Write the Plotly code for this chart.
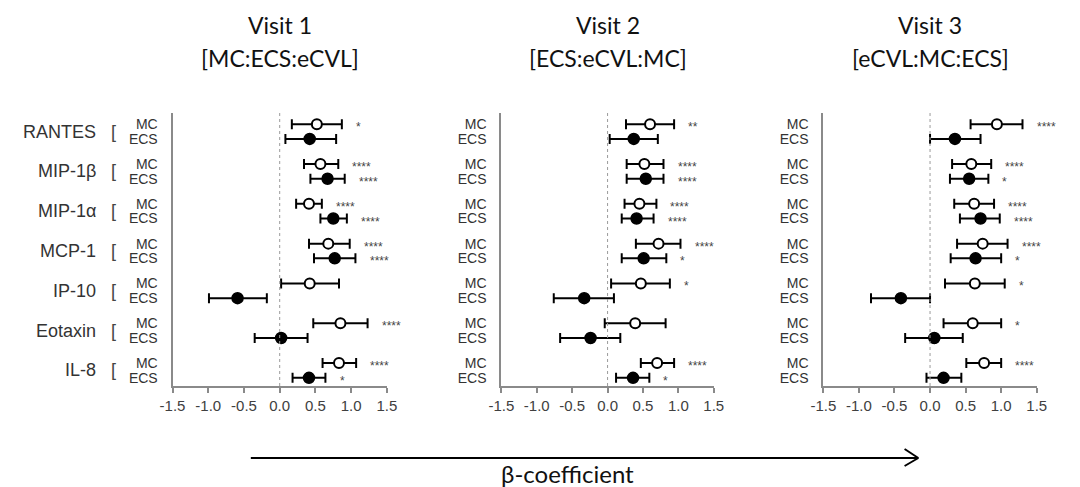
import plotly.graph_objects as go

W, H = 1080, 487

cytokines = ["RANTES", "MIP-1β", "MIP-1α", "MCP-1", "IP-10", "Eotaxin", "IL-8"]
visit_names = ["Visit 1", "Visit 2", "Visit 3"]
visit_orders = ["[MC:ECS:eCVL]", "[ECS:eCVL:MC]", "[eCVL:MC:ECS]"]
tick_vals = [-1.5, -1.0, -0.5, 0.0, 0.5, 1.0, 1.5]
tick_text = ["-1.5", "-1.0", "-0.5", "0.0", "0.5", "1.0", "1.5"]

# Visit 1
v1_mc_est = [0.52, 0.57, 0.41, 0.68, 0.42, 0.85, 0.83]
v1_mc_lo = [0.17, 0.34, 0.23, 0.41, 0.02, 0.47, 0.60]
v1_mc_hi = [0.87, 0.82, 0.59, 0.98, 0.83, 1.23, 1.07]
v1_mc_sig = ["*", "****", "****", "****", "", "****", "****"]
v1_ecs_est = [0.42, 0.67, 0.75, 0.77, -0.59, 0.02, 0.41]
v1_ecs_lo = [0.08, 0.43, 0.57, 0.48, -0.99, -0.35, 0.18]
v1_ecs_hi = [0.79, 0.91, 0.94, 1.06, -0.18, 0.39, 0.64]
v1_ecs_sig = ["", "****", "****", "****", "", "", "*"]

# Visit 2
v2_mc_est = [0.60, 0.52, 0.45, 0.72, 0.47, 0.39, 0.70]
v2_mc_lo = [0.26, 0.27, 0.24, 0.40, 0.05, -0.04, 0.47]
v2_mc_hi = [0.94, 0.79, 0.69, 1.03, 0.88, 0.82, 0.94]
v2_mc_sig = ["**", "****", "****", "****", "*", "", "****"]
v2_ecs_est = [0.37, 0.54, 0.41, 0.51, -0.33, -0.24, 0.36]
v2_ecs_lo = [0.03, 0.27, 0.20, 0.20, -0.76, -0.67, 0.12]
v2_ecs_hi = [0.71, 0.79, 0.65, 0.83, 0.09, 0.18, 0.59]
v2_ecs_sig = ["", "****", "****", "*", "", "", "*"]

# Visit 3
v3_mc_est = [0.94, 0.58, 0.62, 0.74, 0.63, 0.60, 0.76]
v3_mc_lo = [0.57, 0.31, 0.34, 0.38, 0.21, 0.19, 0.51]
v3_mc_hi = [1.30, 0.86, 0.90, 1.09, 1.05, 1.00, 1.00]
v3_mc_sig = ["****", "****", "****", "****", "*", "*", "****"]
v3_ecs_est = [0.35, 0.55, 0.71, 0.64, -0.41, 0.06, 0.19]
v3_ecs_lo = [0.00, 0.28, 0.42, 0.29, -0.83, -0.35, -0.05]
v3_ecs_hi = [0.71, 0.82, 0.98, 1.00, 0.00, 0.46, 0.44]
v3_ecs_sig = ["", "*", "****", "*", "", "", ""]

visits = [
    (v1_mc_est, v1_mc_lo, v1_mc_hi, v1_mc_sig, v1_ecs_est, v1_ecs_lo, v1_ecs_hi, v1_ecs_sig),
    (v2_mc_est, v2_mc_lo, v2_mc_hi, v2_mc_sig, v2_ecs_est, v2_ecs_lo, v2_ecs_hi, v2_ecs_sig),
    (v3_mc_est, v3_mc_lo, v3_mc_hi, v3_mc_sig, v3_ecs_est, v3_ecs_lo, v3_ecs_hi, v3_ecs_sig),
]

def px(x):
    return x / W

def py(y):
    return 1 - y / H

OFF = 0.185
mc_pos = [i - OFF for i in range(len(cytokines))]
ecs_pos = [i + OFF for i in range(len(cytokines))]

x_domains = [(px(163), px(382)), (px(499), px(716)), (px(828), px(1046))]
y_domain = (py(386), py(113))

fig = go.Figure()
axis_gray = "#8a8a8a"
arial = "Liberation Sans, Arial, sans-serif"
calibri_like = "Lato, Open Sans, sans-serif"
tick_font = dict(family=arial, size=15, color="#404040")

for k, (me, ml, mh, ms, ee, el, eh, es) in enumerate(visits):
    n = k + 1
    xa = "x" if n == 1 else f"x{n}"
    ya = "y" if n == 1 else f"y{n}"
    # ECS (filled)
    fig.add_trace(go.Scatter(
        x=ee, y=ecs_pos, mode="markers", xaxis=xa, yaxis=ya, showlegend=False,
        marker=dict(symbol="circle", size=11, color="black", line=dict(color="black", width=1.5)),
        error_x=dict(type="data", symmetric=False,
                     array=[h - e for h, e in zip(eh, ee)],
                     arrayminus=[e - l for e, l in zip(ee, el)],
                     color="black", thickness=2, width=5),
    ))
    # MC (open)
    fig.add_trace(go.Scatter(
        x=me, y=mc_pos, mode="markers", xaxis=xa, yaxis=ya, showlegend=False,
        marker=dict(symbol="circle", size=10, color="white", line=dict(color="black", width=2)),
        error_x=dict(type="data", symmetric=False,
                     array=[h - e for h, e in zip(mh, me)],
                     arrayminus=[e - l for e, l in zip(me, ml)],
                     color="black", thickness=2, width=5),
    ))
    # significance stars
    for vals, hi, sig in ((mc_pos, mh, ms), (ecs_pos, eh, es)):
        for yv, h, s in zip(vals, hi, sig):
            if s:
                fig.add_annotation(x=h + 0.17, y=yv, xref=xa, yref=ya, text=s,
                                   showarrow=False, xanchor="left", yanchor="middle",
                                   yshift=-3,
                                   font=dict(family=arial, size=12, color="#444444"))
    # zero dotted line
    fig.add_shape(type="line", xref=xa, yref=f"{ya} domain", x0=0, x1=0, y0=0, y1=1,
                  line=dict(color="#9a9a9a", width=1, dash="dot"))
    xk = "xaxis" if n == 1 else f"xaxis{n}"
    yk = "yaxis" if n == 1 else f"yaxis{n}"
    fig.update_layout(**{
        xk: dict(domain=list(x_domains[k]), range=[-1.5, 1.5], anchor=ya,
                 tickvals=tick_vals, ticktext=tick_text, ticks="outside", ticklen=5,
                 tickcolor=axis_gray, tickwidth=1.5, showline=True, linecolor=axis_gray,
                 linewidth=2, showgrid=False, zeroline=False, tickfont=tick_font),
        yk: dict(domain=list(y_domain), range=[6.39, -0.465], anchor=xa,
                 tickvals=mc_pos + ecs_pos,
                 ticktext=["MC"] * len(cytokines) + ["ECS"] * len(cytokines),
                 ticks="", ticklabelstandoff=10, showline=True, linecolor=axis_gray,
                 linewidth=2, showgrid=False, zeroline=False,
                 tickfont=dict(family=arial, size=14, color="#333333")),
    })
    # two-line title
    cx = (x_domains[k][0] + x_domains[k][1]) / 2
    fig.add_annotation(x=cx, y=py(25), xref="paper", yref="paper", text=visit_names[k],
                       showarrow=False, xanchor="center", yanchor="middle",
                       font=dict(family=calibri_like, size=23, color="#111111"))
    fig.add_annotation(x=cx, y=py(58), xref="paper", yref="paper", text=visit_orders[k],
                       showarrow=False, xanchor="center", yanchor="middle",
                       font=dict(family=calibri_like, size=23, color="#111111"))

# cytokine names and brackets on the first panel
for i, name in enumerate(cytokines):
    fig.add_annotation(x=px(87), y=i, xref="paper", yref="y", text=name,
                       showarrow=False, xanchor="right", yanchor="middle",
                       font=dict(family=arial, size=18, color="#333333"))
    fig.add_annotation(x=px(103), y=i, xref="paper", yref="y", text="[",
                       showarrow=False, xanchor="center", yanchor="middle",
                       font=dict(family=arial, size=18, color="#444444"))

# bottom arrow
ay = py(458)
fig.add_shape(type="line", xref="paper", yref="paper", x0=px(243), x1=px(925), y0=ay, y1=ay,
              line=dict(color="black", width=2))
fig.add_shape(type="line", xref="paper", yref="paper", x0=px(911), x1=px(925), y0=py(449), y1=ay,
              line=dict(color="black", width=2))
fig.add_shape(type="line", xref="paper", yref="paper", x0=px(911), x1=px(925), y0=py(466), y1=ay,
              line=dict(color="black", width=2))
fig.add_annotation(x=px(567), y=py(473), xref="paper", yref="paper", text="β-coefficient",
                   showarrow=False, xanchor="center", yanchor="middle",
                   font=dict(family=calibri_like, size=24, color="#111111"))

fig.update_layout(width=W, height=H, margin=dict(l=0, r=0, t=0, b=0),
                  paper_bgcolor="white", plot_bgcolor="white", showlegend=False)

fig.write_html("out.html")
